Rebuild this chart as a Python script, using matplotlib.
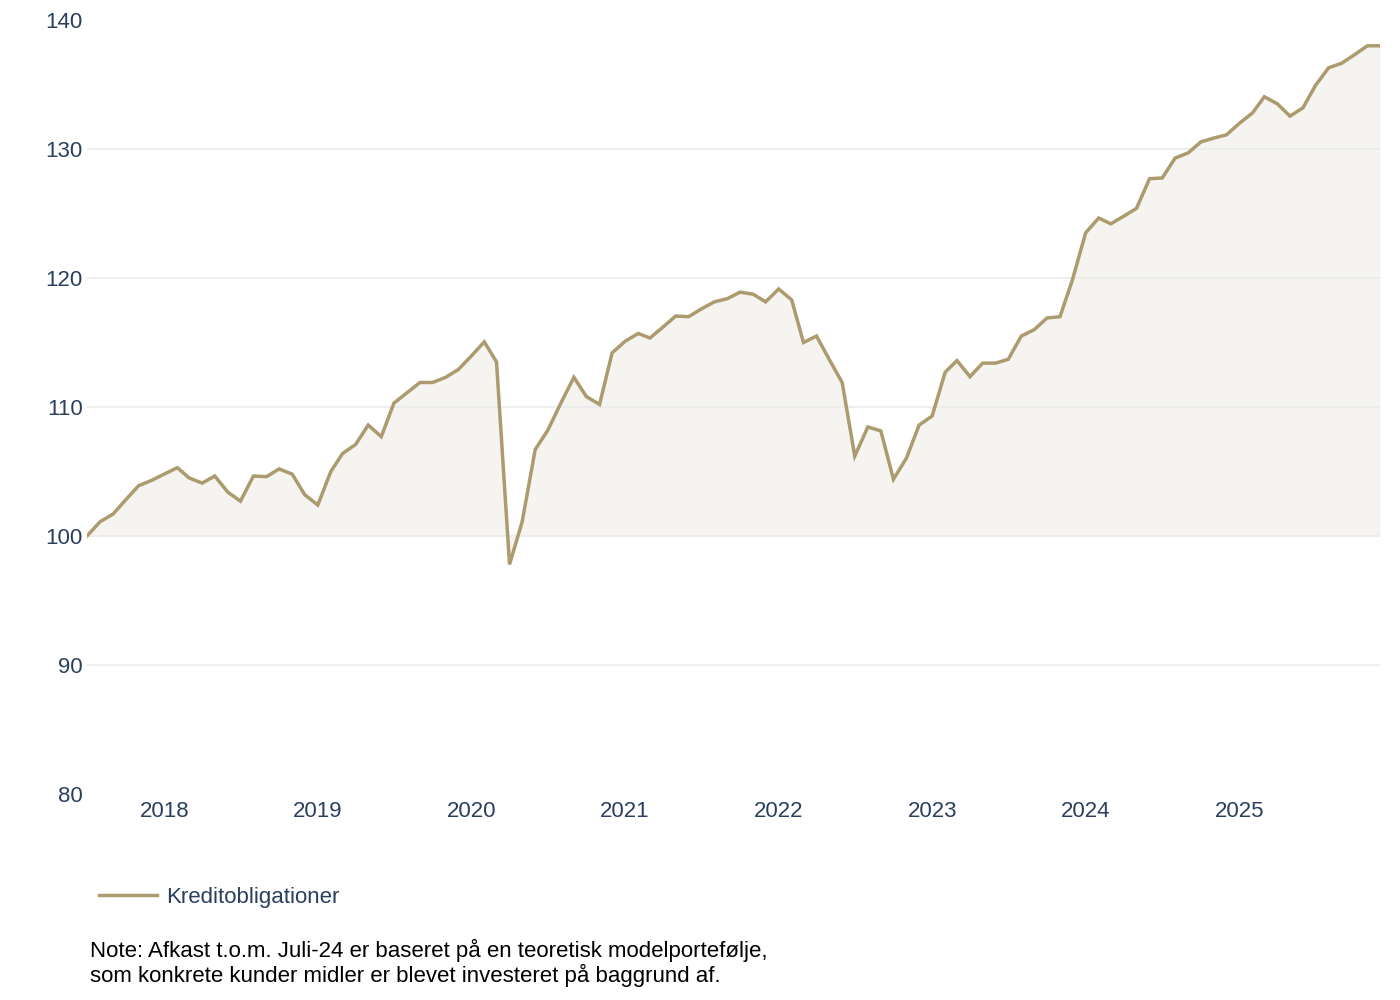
import numpy as np
import pandas as pd
import matplotlib
matplotlib.use("Agg")
import matplotlib.pyplot as plt
import matplotlib.dates as mdates

# --- data: monthly index values ---
start_month = "2017-07-01"
values = [
    100.0, 101.1, 101.7, 102.8, 103.9, 104.3, 104.8, 105.3, 104.5, 104.1,
    104.65, 103.4, 102.7, 104.65, 104.6, 105.2, 104.8, 103.2, 102.4, 105.0,
    106.4, 107.1, 108.6, 107.7, 110.3, 111.1, 111.9, 111.9, 112.3, 112.9,
    113.95, 115.05, 113.5, 97.8, 101.1, 106.7, 108.2, 110.3, 112.3, 110.8,
    110.2, 114.2, 115.1, 115.7, 115.35, 116.2, 117.05, 117.0, 117.6, 118.15,
    118.4, 118.9, 118.75, 118.15, 119.15, 118.3, 115.0, 115.5, 113.7, 111.9,
    106.2, 108.45, 108.15, 104.4, 106.05, 108.6, 109.3, 112.7, 113.6, 112.35,
    113.4, 113.4, 113.7, 115.5, 116.0, 116.9, 117.0, 119.9, 123.5, 124.65,
    124.2, 124.8, 125.4, 127.7, 127.75, 129.3, 129.7, 130.55, 130.85, 131.1,
    132.0, 132.8, 134.05, 133.5, 132.55, 133.2, 134.95, 136.3, 136.65, 137.3,
    138.0, 138.0,
]
dates = pd.date_range(start_month, periods=len(values), freq="MS")

series_name = "Kreditobligationer"
y_ticks = [80, 90, 100, 110, 120, 130, 140]
grid_levels = [90, 100, 110, 120, 130]
note_text = ("Note: Afkast t.o.m. Juli-24 er baseret på en teoretisk modelportefølje,\n"
             "som konkrete kunder midler er blevet investeret på baggrund af.")

# --- styling ---
line_color = "#ab9b6e"
fill_color = "#f5f4f0"
grid_color = "#ebebeb"
tick_color = "#2a3f5f"

plt.rcParams["font.family"] = ["Liberation Sans", "DejaVu Sans"]

fig = plt.figure(figsize=(14, 10), dpi=100)
ax = fig.add_axes([0.0621, 0.206, 0.9236, 0.774])

ax.fill_between(dates, values, 100, color=fill_color, linewidth=0, zorder=1)
line, = ax.plot(dates, values, color=line_color, linewidth=2.5, zorder=3,
                solid_joinstyle="miter", label=series_name)

ax.set_ylim(80, 140)
ax.set_yticks(y_ticks)
ax.set_xlim(dates[0], dates[-1])
ax.xaxis.set_major_locator(mdates.YearLocator())
ax.xaxis.set_major_formatter(mdates.DateFormatter("%Y"))

for v in grid_levels:
    ax.axhline(v, color=grid_color, linewidth=1.2, zorder=2)

for side in ["top", "right", "left", "bottom"]:
    ax.spines[side].set_visible(False)
ax.tick_params(axis="both", length=0, labelsize=16, colors=tick_color)
ax.tick_params(axis="y", pad=3)
ax.tick_params(axis="x", pad=5)

# legend below the plot
leg = fig.legend(handles=[line], loc="center left", bbox_to_anchor=(0.0564, 0.103),
                 frameon=False, fontsize=16, handlelength=2.6, handletextpad=0.4)
for t in leg.get_texts():
    t.set_color(tick_color)

fig.text(0.064, 0.037, note_text, fontsize=16, color="black", va="center",
         linespacing=1.15)

fig.savefig("out.png", dpi=100)
